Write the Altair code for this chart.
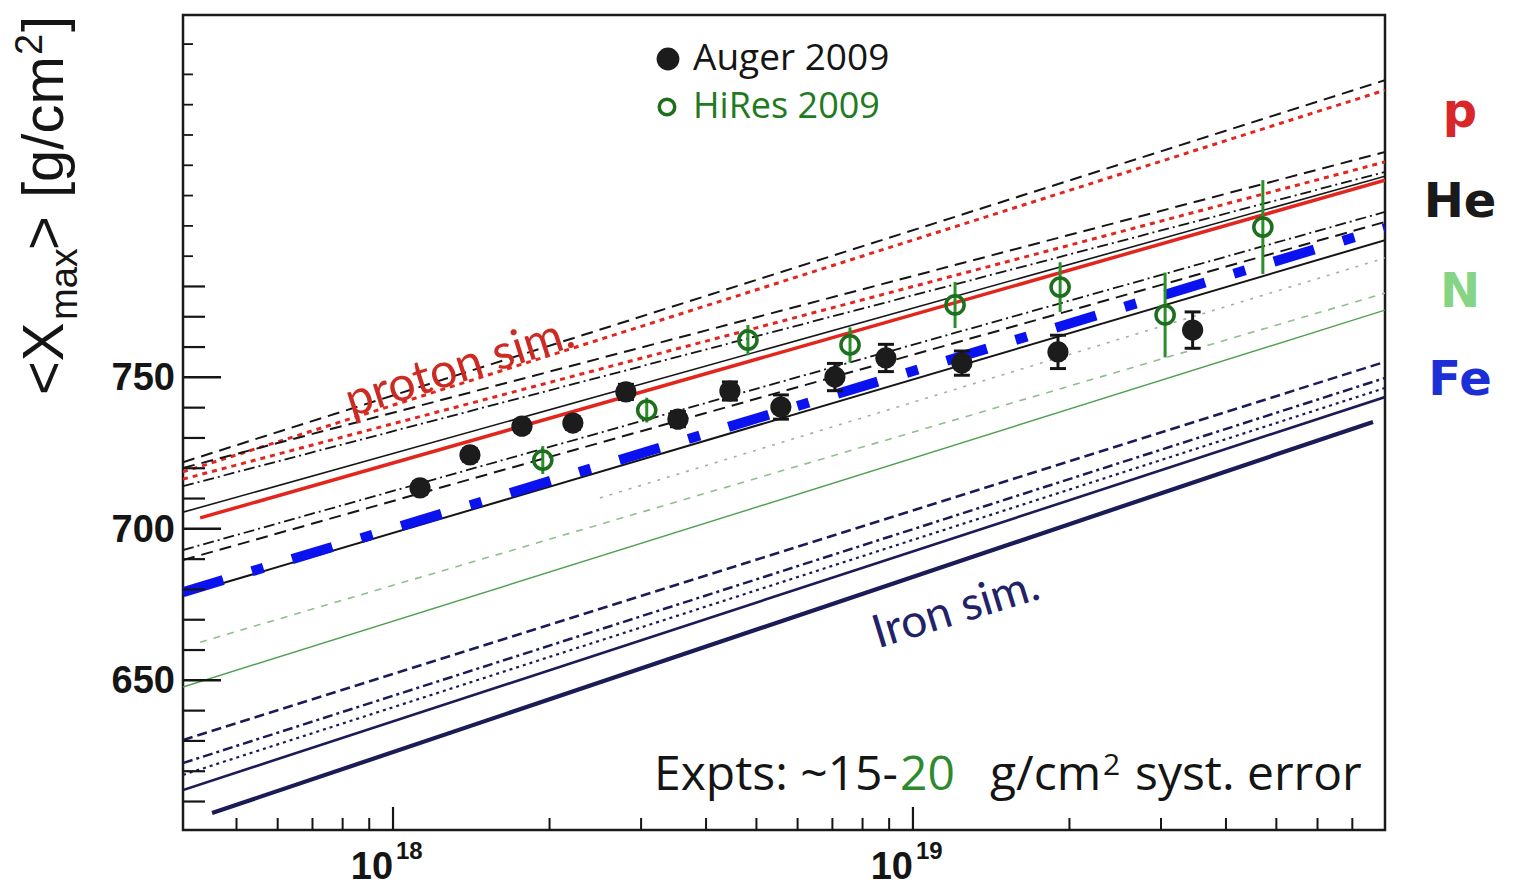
import altair as alt
import pandas as pd

# ---------------- axes ----------------
E_DOMAIN = [3.945e17, 8.09e19]
X_DOMAIN = [600.6, 869.6]
W, H = 1202, 815

# ---------------- data points ----------------
auger_E = [1.127e18, 1.406e18, 1.770e18, 2.218e18, 2.805e18, 3.532e18, 4.446e18,
           5.572e18, 7.079e18, 8.872e18, 1.242e19, 1.901e19, 3.451e19]
auger_X = [713.5, 724.4, 733.9, 734.9, 745.2, 736.2, 745.5, 740.2, 750.1, 756.4,
           754.7, 758.4, 765.6]
auger_err = [2.0, 2.0, 2.0, 2.0, 2.5, 2.5, 3.0, 4.0, 4.5, 4.5, 4.0, 5.5, 6.0]

hires_E = [1.941e18, 3.076e18, 4.815e18, 7.568e18, 1.205e19, 1.919e19, 3.055e19, 4.710e19]
hires_X = [722.7, 739.2, 762.3, 760.7, 773.9, 779.8, 770.6, 799.6]
hires_err = [4.6, 4.1, 5.0, 5.8, 7.6, 8.2, 14.0, 15.5]

# ---------------- simulation curves (end points) ----------------
E_L, E_L2, E_L3, E_M = 3.945e17, 4.256e17, 4.487e17, 2.50e18
E_R, E_R2 = 8.09e19, 7.67e19

p_dash_a_E, p_dash_a_X = [E_L, E_R], [722.0, 848.1]
p_dot_a_E, p_dot_a_X = [E_L, E_R], [718.8, 844.8]
p_dash_b_E, p_dash_b_X = [E_L, E_R], [720.1, 824.4]
p_dot_b_E, p_dot_b_X = [E_L, E_R], [716.4, 821.1]
p_dashdot_E, p_dashdot_X = [E_L, E_R], [714.1, 817.8]
p_thin_E, p_thin_X = [E_L, E_R], [705.5, 816.4]
p_solid_E, p_solid_X = [E_L2, E_R], [703.6, 815.1]

he_dashdot_E, he_dashdot_X = [E_L, E_R], [693.0, 804.6]
he_dash_E, he_dash_X = [E_L, E_R], [689.7, 801.3]
he_solid_E, he_solid_X = [E_L, E_R], [678.2, 795.3]
blue_E, blue_X = [E_L, E_R], [679.1, 799.3]

n_dot_E, n_dot_X = [E_M, E_R], [710.2, 789.4]
n_dash_E, n_dash_X = [E_L2, E_R], [662.6, 777.8]
n_solid_E, n_solid_X = [E_L, E_R], [647.8, 772.2]

fe_dash_E, fe_dash_X = [E_L, E_R], [630.3, 755.1]
fe_dashdot_E, fe_dashdot_X = [E_L, E_R], [622.7, 749.8]
fe_dot_E, fe_dot_X = [E_L, E_R], [618.8, 746.5]
fe_thin_E, fe_thin_X = [E_L, E_R], [613.8, 743.5]
fe_thick_E, fe_thick_X = [E_L3, E_R2], [606.2, 735.3]

# ---------------- ticks / labels ----------------
y_major = [650, 700, 750]
y_major_labels = ["650", "700", "750"]
y_minor = [610, 620, 630, 640, 660, 670, 680, 690, 710, 720, 730, 740, 760, 770, 780]
y_small = [790, 800, 810, 820, 830, 840, 850, 860]
x_major = [1e18, 1e19]
x_major_base = ["10", "10"]
x_major_exp = ["18", "19"]
x_minor = [5e17, 6e17, 7e17, 8e17, 9e17,
           2e18, 3e18, 4e18, 5e18, 6e18, 7e18, 8e18, 9e18,
           2e19, 3e19, 4e19, 5e19, 6e19, 7e19]

xs = alt.Scale(type="log", domain=E_DOMAIN, nice=False)
ys = alt.Scale(domain=X_DOMAIN, nice=False, zero=False)

BLACK = "#151515"
RED = "#e2261e"
NAVY = "#1b1b58"


def curve(E, X, color, width, dash=None, opacity=1.0):
    mk = dict(color=color, strokeWidth=width, strokeCap="butt", clip=True, opacity=opacity)
    if dash:
        mk["strokeDash"] = dash
    return alt.Chart(pd.DataFrame({"E": E, "X": X})).mark_line(**mk).encode(
        x=alt.X("E:Q", scale=xs, axis=None),
        y=alt.Y("X:Q", scale=ys, axis=None),
    )


def txt(text, x, y, size, color, font="Open Sans", angle=0, align="left",
        baseline="alphabetic", weight="normal"):
    return alt.Chart(pd.DataFrame({"t": [text]})).mark_text(
        align=align, baseline=baseline, font=font, fontSize=size, color=color,
        angle=angle, fontWeight=weight
    ).encode(x=alt.value(x), y=alt.value(y), text="t:N")


DASH = [12, 7]
DOT = [5, 5]
DASHDOT = [11, 4, 2, 4]

layers = [
    # proton
    curve(p_dash_a_E, p_dash_a_X, BLACK, 2, DASH),
    curve(p_dot_a_E, p_dot_a_X, RED, 3, DOT),
    curve(p_dash_b_E, p_dash_b_X, BLACK, 2, DASH),
    curve(p_dot_b_E, p_dot_b_X, RED, 3, DOT),
    curve(p_dashdot_E, p_dashdot_X, BLACK, 1.8, DASHDOT),
    curve(p_thin_E, p_thin_X, BLACK, 1.6),
    curve(p_solid_E, p_solid_X, RED, 3.5),
    # helium
    curve(he_dashdot_E, he_dashdot_X, BLACK, 1.8, DASHDOT),
    curve(he_dash_E, he_dash_X, BLACK, 2, DASH),
    curve(he_solid_E, he_solid_X, BLACK, 2),
    # nitrogen
    curve(n_dot_E, n_dot_X, "#aaaaaa", 1.6, [3, 7]),
    curve(n_dash_E, n_dash_X, "#8fbf8f", 1.6, [7, 7]),
    curve(n_solid_E, n_solid_X, "#4f9f4f", 1.4),
    # iron
    curve(fe_dash_E, fe_dash_X, NAVY, 2.5, [10, 5]),
    curve(fe_dashdot_E, fe_dashdot_X, NAVY, 2.5, [10, 4, 3, 4]),
    curve(fe_dot_E, fe_dot_X, NAVY, 2.2, [3, 4]),
    curve(fe_thin_E, fe_thin_X, NAVY, 2.6),
    curve(fe_thick_E, fe_thick_X, NAVY, 4.2),
    # blue reference line
    curve(blue_E, blue_X, "#0a12f0", 10, [42, 30, 12, 30]),
]

# y ticks (inward) and labels
ylab = pd.DataFrame({"v": y_major, "t": y_major_labels})
layers.append(
    alt.Chart(ylab).mark_rule(color=BLACK, strokeWidth=2.5).encode(
        y=alt.Y("v:Q", scale=ys, axis=None), x=alt.value(0), x2=alt.value(38))
)
layers.append(
    alt.Chart(ylab).mark_text(align="right", baseline="middle", font="Liberation Sans",
                              fontWeight="bold", fontSize=38, color=BLACK, dy=2).encode(
        y=alt.Y("v:Q", scale=ys, axis=None), x=alt.value(-8), text="t:N")
)
layers.append(
    alt.Chart(pd.DataFrame({"v": y_minor})).mark_rule(color=BLACK, strokeWidth=2.2).encode(
        y=alt.Y("v:Q", scale=ys, axis=None), x=alt.value(0), x2=alt.value(22))
)
layers.append(
    alt.Chart(pd.DataFrame({"v": y_small})).mark_rule(color=BLACK, strokeWidth=1.8).encode(
        y=alt.Y("v:Q", scale=ys, axis=None), x=alt.value(0), x2=alt.value(10))
)
# x ticks (inward) and labels
layers.append(
    alt.Chart(pd.DataFrame({"v": x_major})).mark_rule(color=BLACK, strokeWidth=2.2).encode(
        x=alt.X("v:Q", scale=xs, axis=None), y=alt.value(H), y2=alt.value(H - 23))
)
layers.append(
    alt.Chart(pd.DataFrame({"v": x_minor})).mark_rule(color=BLACK, strokeWidth=2).encode(
        x=alt.X("v:Q", scale=xs, axis=None), y=alt.value(H), y2=alt.value(H - 12))
)
xlab = pd.DataFrame({"v": x_major, "b": x_major_base, "e": x_major_exp})
layers.append(
    alt.Chart(xlab).mark_text(align="right", baseline="alphabetic", font="Liberation Sans",
                              fontWeight="bold", fontSize=38, color=BLACK).encode(
        x=alt.X("v:Q", scale=xs, axis=None), y=alt.value(H + 49), text="b:N")
)
layers.append(
    alt.Chart(xlab).mark_text(align="left", baseline="alphabetic", font="Liberation Sans",
                              fontWeight="bold", fontSize=24, color=BLACK, dx=3).encode(
        x=alt.X("v:Q", scale=xs, axis=None), y=alt.value(H + 29), text="e:N")
)

# data: Auger
auger = pd.DataFrame({"E": auger_E, "X": auger_X,
                      "lo": [x - e for x, e in zip(auger_X, auger_err)],
                      "hi": [x + e for x, e in zip(auger_X, auger_err)]})
layers.append(alt.Chart(auger).mark_rule(color=BLACK, strokeWidth=3).encode(
    x=alt.X("E:Q", scale=xs, axis=None), y=alt.Y("lo:Q", scale=ys, axis=None), y2="hi:Q"))
layers.append(alt.Chart(auger).mark_tick(orient="horizontal", size=16, thickness=3, color=BLACK, opacity=1).encode(
    x=alt.X("E:Q", scale=xs, axis=None), y=alt.Y("lo:Q", scale=ys, axis=None)))
layers.append(alt.Chart(auger).mark_tick(orient="horizontal", size=16, thickness=3, color=BLACK, opacity=1).encode(
    x=alt.X("E:Q", scale=xs, axis=None), y=alt.Y("hi:Q", scale=ys, axis=None)))
layers.append(alt.Chart(auger).mark_circle(size=450, color="#1c1c1c", opacity=1).encode(
    x=alt.X("E:Q", scale=xs, axis=None), y=alt.Y("X:Q", scale=ys, axis=None)))

# data: HiRes
hires = pd.DataFrame({"E": hires_E, "X": hires_X,
                      "lo": [x - e for x, e in zip(hires_X, hires_err)],
                      "hi": [x + e for x, e in zip(hires_X, hires_err)]})
layers.append(alt.Chart(hires).mark_rule(color="#2a8f2a", strokeWidth=3).encode(
    x=alt.X("E:Q", scale=xs, axis=None), y=alt.Y("lo:Q", scale=ys, axis=None), y2="hi:Q"))
layers.append(alt.Chart(hires).mark_point(shape="circle", size=330, filled=False, color="#1d6e1d",
                                          strokeWidth=3.5, opacity=1).encode(
    x=alt.X("E:Q", scale=xs, axis=None), y=alt.Y("X:Q", scale=ys, axis=None)))

# legend (inside plot)
layers.append(alt.Chart(pd.DataFrame({"a": [0]})).mark_circle(size=520, color="#1c1c1c", opacity=1).encode(
    x=alt.value(485), y=alt.value(44)))
layers.append(alt.Chart(pd.DataFrame({"a": [0]})).mark_point(shape="circle", size=240, filled=False,
                                                            color="#1d6e1d", strokeWidth=3.5, opacity=1).encode(
    x=alt.value(484), y=alt.value(92)))
layers.append(txt("Auger 2009", 510, 55, 37, BLACK))
layers.append(txt("HiRes 2009", 510, 103, 36, "#1e7b1e"))

# annotations
layers.append(txt("proton sim.", 277, 353, 48, "#cc2a22", font="Lato", angle=342.5,
                  align="center", baseline="middle"))
layers.append(txt("Iron sim.", 773, 595, 46, "#222266", font="Lato", angle=343,
                  align="center", baseline="middle"))
layers.append(txt("Expts: ~15-", 715, 775, 48, BLACK, align="right"))
layers.append(txt("20", 717, 775, 48, "#2f8a2f"))
layers.append(txt("g/cm", 807, 775, 48, BLACK))
layers.append(txt("2", 920, 760, 30, BLACK))
layers.append(txt("syst. error", 952, 775, 48, BLACK))

# species labels on the right
layers.append(txt("p", 1277, 112, 48, "#d8262a", font="DejaVu Sans", align="center", weight="bold"))
layers.append(txt("He", 1277, 202, 48, "#1a1a1a", font="DejaVu Sans", align="center", weight="bold"))
layers.append(txt("N", 1277, 292, 48, "#86d486", font="DejaVu Sans", align="center", weight="bold"))
layers.append(txt("Fe", 1277, 380, 48, "#1c2ed6", font="DejaVu Sans", align="center", weight="bold"))

# y-axis title pieces: <X_max> [g/cm^2]
layers.append(txt("<X", -120, 380, 58, BLACK, font="Liberation Sans", angle=270))
layers.append(txt("max", -106, 305, 38, BLACK, font="Liberation Sans", angle=270))
layers.append(txt(">", -120, 235, 58, BLACK, font="Liberation Sans", angle=270))
layers.append(txt("[g/cm", -120, 183, 58, BLACK, font="Liberation Sans", angle=270))
layers.append(txt("2", -141, 40, 38, BLACK, font="Liberation Sans", angle=270))
layers.append(txt("]", -120, 17, 58, BLACK, font="Liberation Sans", angle=270))

chart = alt.layer(*layers).properties(
    width=W, height=H,
    autosize=alt.AutoSizeParams(type="none"),
    padding={"left": 183, "top": 15, "right": 130, "bottom": 58},
    background="white",
).configure_view(stroke="#1a1a1a", strokeWidth=2.5)

chart.save("out.html", embed_options={"renderer": "svg", "actions": False})
